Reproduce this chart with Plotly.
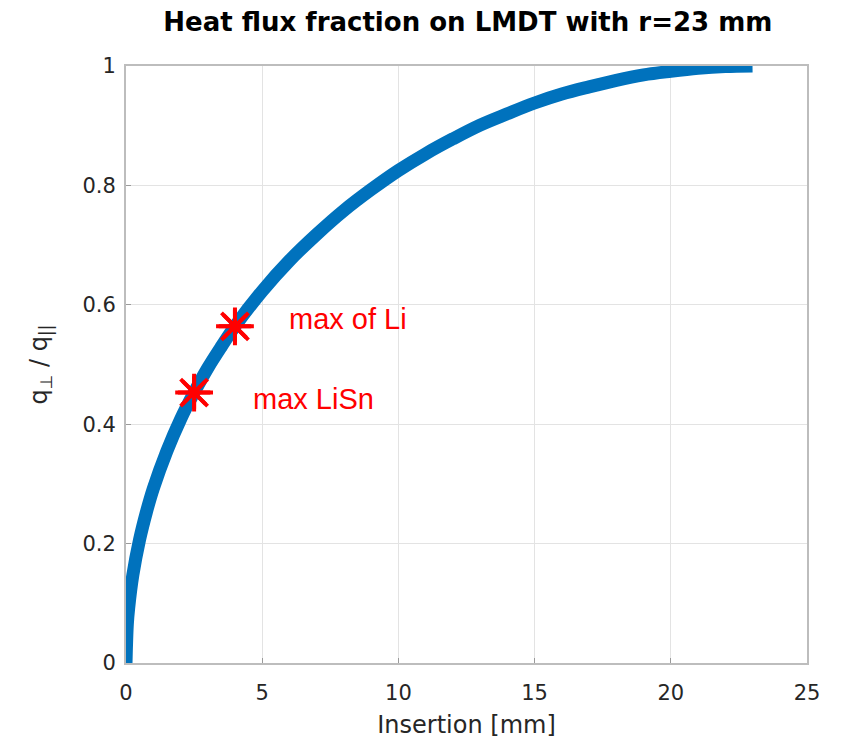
import plotly.graph_objects as go

insertion_mm = [0, 0.05, 0.1, 0.25, 0.5, 0.75, 1, 1.5, 2, 2.5, 3, 3.5, 4, 5, 6, 7, 8, 9,
                10, 11, 12, 13, 14, 15, 16, 17, 18, 19, 20, 21, 22, 23]
flux_fraction = [0, 0.066, 0.093, 0.147, 0.207, 0.253, 0.292, 0.355, 0.408, 0.453, 0.494,
                 0.530, 0.564, 0.623, 0.674, 0.718, 0.758, 0.793, 0.825, 0.853, 0.878,
                 0.901, 0.920, 0.938, 0.953, 0.965, 0.976, 0.985, 0.991, 0.996, 0.999, 1.0]

marker_x = [4.0, 2.5]
marker_y = [0.564, 0.453]
marker_labels = ["max of Li", "max LiSn"]
label_x = [5.9, 4.6]
label_y = [0.577, 0.443]

x_ticks = [0, 5, 10, 15, 20, 25]
y_ticks = [0, 0.2, 0.4, 0.6, 0.8, 1]

fig = go.Figure()
fig.add_trace(go.Scatter(x=insertion_mm, y=flux_fraction, mode="lines",
                         line=dict(color="#0072BD", width=13, shape="spline"),
                         showlegend=False, hoverinfo="skip"))
for sym in ["asterisk-open", "x-thin-open", "cross-thin-open"]:
    fig.add_trace(go.Scatter(x=marker_x, y=marker_y, mode="markers",
                             marker=dict(symbol=sym, size=27, color="#FF0000",
                                         line=dict(color="#FF0000", width=4)),
                             showlegend=False, hoverinfo="skip"))

for lx, ly, txt in zip(label_x, label_y, marker_labels):
    fig.add_annotation(x=lx, y=ly, text=txt, showarrow=False, xanchor="left",
                       yanchor="middle",
                       font=dict(family="Liberation Sans, Arial", size=29, color="#FF0000"))

axis_common = dict(showgrid=True, gridcolor="#E3E3E3", gridwidth=1,
                   showline=True, linecolor="#BDBDBD", linewidth=2, mirror=True,
                   ticks="inside", ticklen=5, tickcolor="#9A9A9A", zeroline=False,
                   tickfont=dict(family="DejaVu Sans", size=21, color="#262626"))

fig.update_xaxes(range=[0, 25], tickvals=x_ticks, ticktext=[str(t) for t in x_ticks],
                 ticklabelstandoff=10, automargin=False,
                 title=dict(text="Insertion [mm]", standoff=12,
                            font=dict(family="DejaVu Sans", size=24, color="#262626")),
                 **axis_common)
fig.update_yaxes(range=[0, 1], tickvals=y_ticks, ticktext=["0", "0.2", "0.4", "0.6", "0.8", "1"],
                 ticklabelstandoff=4, automargin=False,
                 title=dict(text="q<sub>⊥</sub> / q<sub>||</sub>", standoff=28,
                            font=dict(family="DejaVu Sans", size=24, color="#262626")),
                 **axis_common)

fig.update_layout(
    width=843, height=742,
    margin=dict(l=126, r=36, t=66, b=79),
    plot_bgcolor="white", paper_bgcolor="white",
    title=dict(text="<b>Heat flux fraction on LMDT with r=23 mm</b>", x=0.555, xanchor="center",
               y=0.97, yanchor="middle",
               font=dict(family="DejaVu Sans", size=26, color="#000000")),
)

fig.write_html("out.html")
